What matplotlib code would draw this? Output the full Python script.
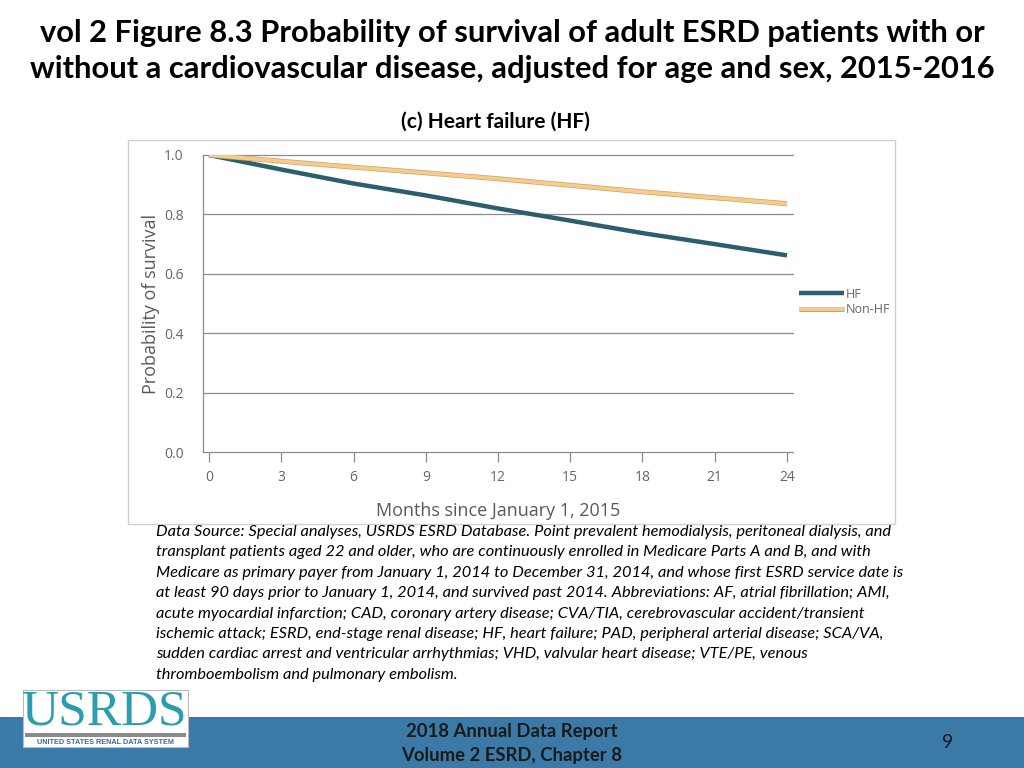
import matplotlib
matplotlib.use("Agg")
import matplotlib.pyplot as plt
from matplotlib.patches import Rectangle
import matplotlib.patheffects as pe

# dados
months = [0, 3, 6, 9, 12, 15, 18, 21, 24]
hf = [1.0, 0.951, 0.904, 0.864, 0.820, 0.779, 0.737, 0.700, 0.662]
non_hf = [1.0, 0.979, 0.959, 0.940, 0.920, 0.898, 0.876, 0.856, 0.836]
series_names = ['HF', 'Non-HF']
xticks = [0, 3, 6, 9, 12, 15, 18, 21, 24]
yticks = [0.0, 0.2, 0.4, 0.6, 0.8, 1.0]

title = ("vol 2 Figure 8.3 Probability of survival of adult ESRD patients with or\n"
         "without a cardiovascular disease, adjusted for age and sex, 2015-2016")
subtitle = "(c) Heart failure (HF)"
caption = [
    "Data Source: Special analyses, USRDS ESRD Database. Point prevalent hemodialysis, peritoneal dialysis, and",
    "transplant patients aged 22 and older, who are continuously enrolled in Medicare Parts A and B, and with",
    "Medicare as primary payer from January 1, 2014 to December 31, 2014, and whose first ESRD service date is",
    "at least 90 days prior to January 1, 2014, and survived past 2014. Abbreviations: AF, atrial fibrillation; AMI,",
    "acute myocardial infarction; CAD, coronary artery disease; CVA/TIA, cerebrovascular accident/transient",
    "ischemic attack; ESRD, end-stage renal disease; HF, heart failure; PAD, peripheral arterial disease; SCA/VA,",
    "sudden cardiac arrest and ventricular arrhythmias; VHD, valvular heart disease; VTE/PE, venous",
    "thromboembolism and pulmonary embolism.",
]

W, H = 1024, 768
fig = plt.figure(figsize=(W / 100, H / 100), dpi=100)
fig.patch.set_facecolor('white')

def fx(px):
    return px / W

def fy(py):
    return 1 - py / H

# caixa externa do gráfico
fig.patches.append(Rectangle((fx(128), fy(524)), fx(895) - fx(128), fy(140) - fy(524),
                             transform=fig.transFigure, fill=False, edgecolor='#d0d0d0', lw=1))

ax = fig.add_axes([fx(203), fy(452), fx(793) - fx(203), fy(155) - fy(452)])
ax.set_xlim(-0.25, 24.25)
ax.set_ylim(0, 1.0)

ax.plot(months, hf, color='#2b5f6e', lw=3.2, solid_capstyle='butt', label=series_names[0], zorder=3)
ax.plot(months, non_hf, color='#f7cb8c', lw=2.6, solid_capstyle='butt', label=series_names[1], zorder=4,
        path_effects=[pe.Stroke(linewidth=3.6, foreground='#c9a46a'), pe.Normal()])

for y in yticks:
    ax.axhline(y, color='#8c8c8c', lw=0.9, zorder=1, clip_on=False)

for s in ['top', 'right', 'bottom']:
    ax.spines[s].set_visible(False)
ax.spines['left'].set_color('#8c8c8c')
ax.spines['left'].set_linewidth(0.9)

ax.set_xticks(xticks)
ax.set_yticks(yticks)
ax.set_yticklabels([f"{v:.1f}" for v in yticks])
ax.tick_params(axis='x', length=7, width=0.9, color='#8c8c8c', labelcolor='#666666',
               labelsize=10, pad=6)
ax.tick_params(axis='y', length=0, labelcolor='#666666', labelsize=10, pad=14)
for lab in ax.get_xticklabels() + ax.get_yticklabels():
    lab.set_family('Open Sans')

ax.set_xlabel("Months since January 1, 2015", fontsize=13, color='#595959',
              family='Open Sans', labelpad=12)
ax.set_ylabel("Probability of survival", fontsize=13, color='#595959',
              family='Open Sans', labelpad=3)

leg = ax.legend(loc='center left', bbox_to_anchor=(1.0, 0.505), frameon=False,
                handlelength=3.6, handletextpad=0.1, labelspacing=0.2, borderpad=0,
                prop={'family': 'Open Sans', 'size': 9})
for t in leg.get_texts():
    t.set_color('#666666')

# títulos
fig.text(0.5, fy(51), title, ha='center', va='center', fontsize=22.2, fontweight='bold',
         family='Lato', linespacing=1.33, color='black')
fig.text(fx(495), fy(122), subtitle, ha='center', va='center', fontsize=15,
         fontweight='bold', family='Lato', color='black')

# nota de rodapé
for i, line in enumerate(caption):
    fig.text(fx(156), fy(532 + i * 20.4), line, ha='left', va='center', fontsize=11.8,
             style='italic', family='Lato', color='black')

# faixa inferior
fig.patches.append(Rectangle((0, 0), 1, fy(717), transform=fig.transFigure,
                             facecolor='#3b79a7', edgecolor='none'))
fig.text(0.5, fy(731), "2018 Annual Data Report", ha='center', va='center',
         fontsize=13.3, fontweight='bold', family='Lato', color='#1a1a1a')
fig.text(0.5, fy(755), "Volume 2 ESRD, Chapter 8", ha='center', va='center',
         fontsize=13.3, fontweight='bold', family='Lato', color='#1a1a1a')
fig.text(fx(948), fy(743), "9", ha='center', va='center', fontsize=14,
         family='Lato', color='#1a1a1a')

# logotipo
fig.patches.append(Rectangle((fx(23), fy(747)), fx(188) - fx(23), fy(690) - fy(747),
                             transform=fig.transFigure, facecolor='white', edgecolor='#bbbbbb', lw=0.8))
fig.text(fx(105), fy(712), "USRDS", ha='center', va='center', fontsize=37,
         family='Liberation Serif', color='#2a9eac')
fig.patches.append(Rectangle((fx(25), fy(737)), fx(186) - fx(25), fy(733) - fy(737),
                             transform=fig.transFigure, facecolor='#8a8a8a', edgecolor='none'))
fig.text(fx(105), fy(742), "UNITED STATES RENAL DATA SYSTEM", ha='center', va='center',
         fontsize=5.2, fontweight='bold', family='Liberation Sans', color='#2f6fa0')

fig.savefig('out.png', dpi=100)
